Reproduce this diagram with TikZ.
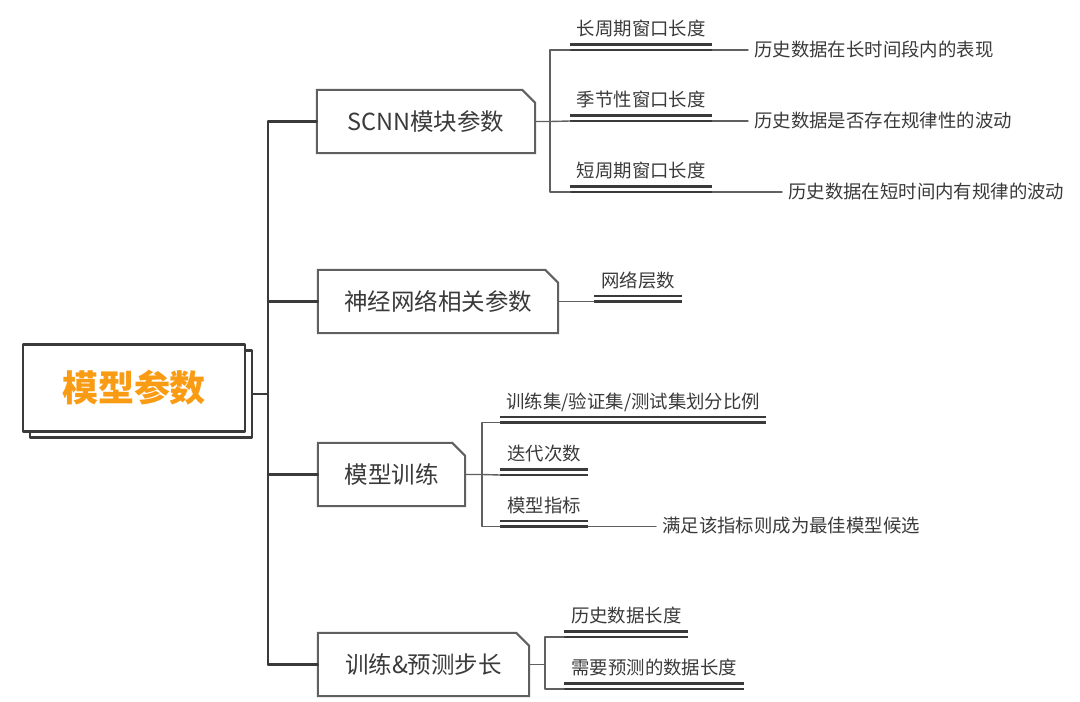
\documentclass[tikz,border=0pt]{standalone}
\usepackage{fontspec}
\setmainfont{Noto Sans CJK SC}
\usepackage{xcolor}
\usepackage{tikz}
\usetikzlibrary{calc,positioning}
\definecolor{rootorange}{RGB}{250,155,20}
\definecolor{inkgray}{RGB}{58,58,58}
\definecolor{linegray}{RGB}{96,96,96}
\tikzset{
  rootbox/.style={rectangle, draw=inkgray, line width=2.6pt, fill=white, minimum width=222pt, minimum height=87pt, inner sep=0pt},
  midbox/.style={rectangle, inner sep=0pt, minimum height=63pt, text=inkgray, font=\fontsize{23.5pt}{28pt}\selectfont},
  cutline/.style={draw=linegray, line width=2pt, line join=miter},
  leaf/.style={anchor=south west, inner sep=0pt, minimum height=40pt, text height=14pt, text depth=2pt, text=inkgray, font=\fontsize{18.4pt}{22pt}\selectfont},
  note/.style={anchor=west, inner xsep=6pt, inner ysep=0pt, text height=14pt, text depth=2pt, text=inkgray, font=\fontsize{18.4pt}{22pt}\selectfont},
  trunk/.style={draw=inkgray, line width=2.2pt},
  twig/.style={draw=linegray, line width=1.4pt},
  uline/.style={draw=inkgray, double=white, double distance=3.3pt, line width=2.2pt, line cap=butt},
  every picture/.style={line cap=round, line join=round}
}

\begin{document}
\begin{tikzpicture}[x=1pt, y=-1pt]
    \useasboundingbox (0,0) rectangle (1080,702);

    % root with its shadow box
    \node[rootbox] (rootsh) at (141,394) {};
    \node[rootbox, text=rootorange, font=\bfseries\fontsize{36pt}{40pt}\selectfont] (root) at (134,388) {模型参数};

    % second level
    \node[midbox, minimum width=218pt] (scnn) at (426,121.5) {SCNN模块参数};
    \node[midbox, minimum width=240pt] (nn) at (438,301.5) {神经网络相关参数};
    \node[midbox, minimum width=147pt] (train) at (391.5,474.5) {模型训练};
    \node[midbox, minimum width=211pt] (step) at (423.5,664.5) {训练\&预测步长};

    \draw[cutline] (scnn.south west) -- (scnn.north west) -- ([xshift=-13pt]scnn.north east) -- ([yshift=-13pt]scnn.north east) -- (scnn.south east) -- cycle;
    \draw[cutline] (nn.south west) -- (nn.north west) -- ([xshift=-13pt]nn.north east) -- ([yshift=-13pt]nn.north east) -- (nn.south east) -- cycle;
    \draw[cutline] (train.south west) -- (train.north west) -- ([xshift=-13pt]train.north east) -- ([yshift=-13pt]train.north east) -- (train.south east) -- cycle;
    \draw[cutline] (step.south west) -- (step.north west) -- ([xshift=-13pt]step.north east) -- ([yshift=-13pt]step.north east) -- (step.south east) -- cycle;

    % leaves
    \node[leaf, minimum width=142pt] (s1) at (570,50) {长周期窗口长度};
    \node[leaf, minimum width=142pt] (s2) at (570,121) {季节性窗口长度};
    \node[leaf, minimum width=142pt] (s3) at (570,192) {短周期窗口长度};
    \node[leaf, minimum width=88pt] (n1) at (594,301.5) {网络层数};
    \node[leaf, minimum width=266pt] (t1) at (500,422.5) {训练集/验证集/测试集划分比例};
    \node[leaf, minimum width=88pt] (t2) at (500,475) {迭代次数};
    \node[leaf, minimum width=88pt] (t3) at (500,526.5) {模型指标};
    \node[leaf, minimum width=124pt] (p1) at (564,637) {历史数据长度};
    \node[leaf, minimum width=180pt] (p2) at (564,689) {需要预测的数据长度};

    \node[note] (d1) at (748,50) {历史数据在长时间段内的表现};
    \node[note] (d2) at (748,121) {历史数据是否存在规律性的波动};
    \node[note] (d3) at (782,192) {历史数据在短时间内有规律的波动};
    \node[note] (d4) at (656,526.5) {满足该指标则成为最佳模型候选};

    % double underlines
    \draw[uline] ([yshift=2.75pt]s1.south west) -- ([yshift=2.75pt]s1.south east);
    \draw[uline] ([yshift=2.75pt]s2.south west) -- ([yshift=2.75pt]s2.south east);
    \draw[uline] ([yshift=2.75pt]s3.south west) -- ([yshift=2.75pt]s3.south east);
    \draw[uline] ([yshift=2.75pt]n1.south west) -- ([yshift=2.75pt]n1.south east);
    \draw[uline] ([yshift=2.75pt]t1.south west) -- ([yshift=2.75pt]t1.south east);
    \draw[uline] ([yshift=2.75pt]t2.south west) -- ([yshift=2.75pt]t2.south east);
    \draw[uline] ([yshift=2.75pt]t3.south west) -- ([yshift=2.75pt]t3.south east);
    \draw[uline] ([yshift=2.75pt]p1.south west) -- ([yshift=2.75pt]p1.south east);
    \draw[uline] ([yshift=2.75pt]p2.south west) -- ([yshift=2.75pt]p2.south east);

    % trunk
    \coordinate (jr) at (268,394);
    \draw[trunk] (rootsh.east) -- (jr);
    \draw[trunk] (scnn.west -| jr) -- (step.west -| jr);
    \draw[trunk] (scnn.west -| jr) -- (scnn.west);
    \draw[trunk] (nn.west -| jr) -- (nn.west);
    \draw[trunk] (train.west -| jr) -- (train.west);
    \draw[trunk] (step.west -| jr) -- (step.west);

    % branches
    \coordinate (js) at (550,121.5);
    \draw[twig] (scnn.east) -- (js) -- (s2.south west);
    \draw[twig] (s1.south west) -| (js) |- (s3.south west);
    \draw[twig] (nn.east) -- (n1.south west);
    \coordinate (jt) at (482,474.5);
    \draw[twig] (train.east) -- (jt) -- (t2.south west);
    \draw[twig] (t1.south west) -| (jt) |- (t3.south west);
    \coordinate (jp) at (545,664.5);
    \draw[twig] (step.east) -- (jp);
    \draw[twig] (p1.south west) -| (jp) |- (p2.south west);

    \draw[twig] (s1.south east) -- (d1.west);
    \draw[twig] (s2.south east) -- (d2.west);
    \draw[twig] (s3.south east) -- (d3.west);
    \draw[twig] (t3.south east) -- (d4.west);
  \end{tikzpicture}
\end{document}
